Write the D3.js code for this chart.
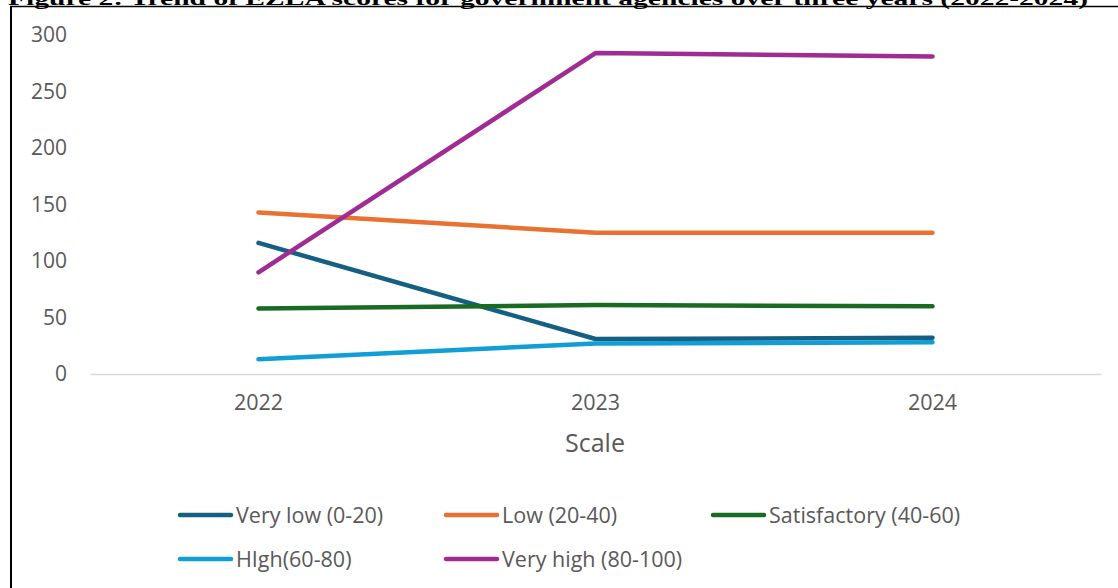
<!DOCTYPE html>
<html>
<head>
<meta charset="utf-8">
<script src="https://cdn.jsdelivr.net/npm/d3@7"></script>
<style>
  html, body { margin: 0; padding: 0; background: #fff; }
  svg { display: block; }
</style>
</head>
<body>
<svg id="chart" width="1118" height="588"></svg>
<script>
const titleText = "Figure 2: Trend of EZLA scores for government agencies over three years (2022-2024)";
const years = ["2022", "2023", "2024"];
const yTicks = [0, 50, 100, 150, 200, 250, 300];
const seriesNames = ["Very low (0-20)", "Low (20-40)", "Satisfactory (40-60)", "HIgh(60-80)", "Very high (80-100)"];
const veryLow = [116, 31, 32];
const low = [143, 125, 125];
const satisfactory = [58, 61, 60];
const high = [13, 27, 28];
const veryHigh = [90, 284, 281];
const colors = ["#156082", "#E97132", "#196B24", "#0F9ED5", "#A02B93"];
const xTitle = "Scale";

const seriesValues = [veryLow, low, satisfactory, high, veryHigh];
const series = seriesNames.map((n, i) => ({ name: n, color: colors[i], values: seriesValues[i] }));

const svg = d3.select("#chart");
const font = "'Open Sans', 'Liberation Sans', Arial, sans-serif";

// Title (cropped at top, as in the reference)
svg.append("text")
  .attr("x", 8).attr("y", 5)
  .attr("font-family", "'Liberation Serif', 'DejaVu Serif', serif")
  .attr("font-weight", "bold")
  .attr("font-size", 19)
  .attr("textLength", 1080)
  .attr("lengthAdjust", "spacingAndGlyphs")
  .attr("fill", "#000")
  .text(titleText);

// Frame lines
svg.append("line").attr("x1", 10).attr("x2", 1118).attr("y1", 6.5).attr("y2", 6.5)
  .attr("stroke", "#000").attr("stroke-width", 1.5);
svg.append("line").attr("x1", 11).attr("x2", 11).attr("y1", 6).attr("y2", 588)
  .attr("stroke", "#000").attr("stroke-width", 2);

const x = d3.scaleBand().domain(years).range([90, 1101]);
const y = d3.scaleLinear().domain([0, 300]).range([374, 35]);

// Y axis labels
const yAxis = d3.axisLeft(y).tickValues(yTicks).tickSize(0).tickPadding(0);
const yg = svg.append("g").attr("transform", "translate(67,0)").call(yAxis);
yg.select(".domain").remove();
yg.selectAll("text").attr("font-family", font).attr("font-size", 21).attr("fill", "#595959");

// X axis
const xAxis = d3.axisBottom(x).tickSize(0).tickPadding(21);
const xg = svg.append("g").attr("transform", "translate(0,374)").call(xAxis);
xg.select(".domain").attr("stroke", "#d9d9d9").attr("stroke-width", 1.5);
xg.selectAll("text").attr("font-family", font).attr("font-size", 21.5).attr("fill", "#595959");

// X title
svg.append("text").attr("x", 595).attr("y", 452).attr("text-anchor", "middle")
  .attr("font-family", font).attr("font-size", 25).attr("fill", "#595959").text(xTitle);

// Lines
const line = d3.line()
  .x((d, i) => x(years[i]) + x.bandwidth() / 2)
  .y(d => y(d));

svg.append("g").selectAll("path").data(series).join("path")
  .attr("d", d => line(d.values))
  .attr("fill", "none")
  .attr("stroke", d => d.color)
  .attr("stroke-width", 4.5)
  .attr("stroke-linecap", "round")
  .attr("stroke-linejoin", "round");

// Legend
const legendPos = [
  [178, 515], [444, 515], [711, 515],
  [178, 559], [444, 559]
];
const lg = svg.append("g").selectAll("g").data(series).join("g")
  .attr("transform", (d, i) => `translate(${legendPos[i][0]},${legendPos[i][1]})`);
lg.append("line").attr("x1", 2).attr("x2", 53).attr("y1", 0).attr("y2", 0)
  .attr("stroke", d => d.color).attr("stroke-width", 4.5).attr("stroke-linecap", "round");
lg.append("text").attr("x", 58).attr("y", 8)
  .attr("font-family", font).attr("font-size", 21.5).attr("fill", "#595959")
  .text(d => d.name);
</script>
</body>
</html>
